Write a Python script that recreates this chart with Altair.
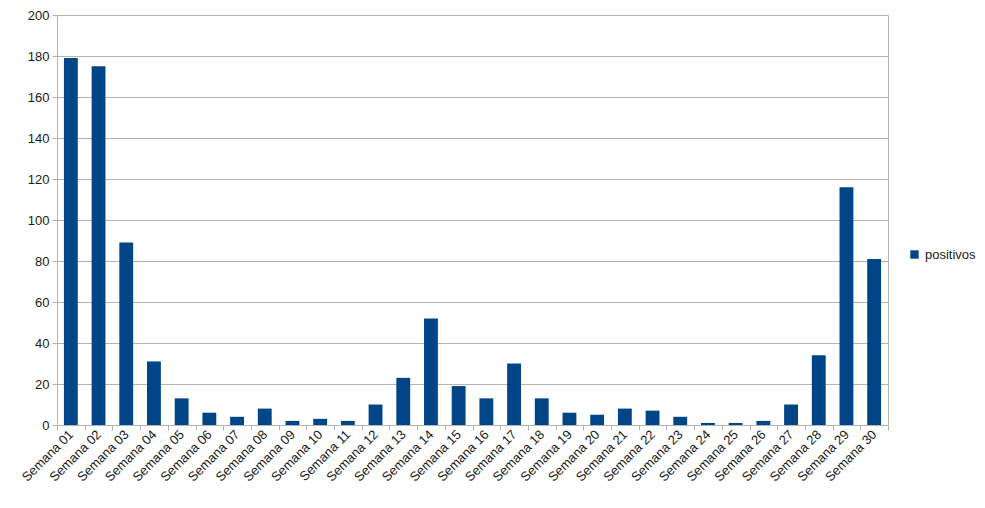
import altair as alt
import pandas as pd

semanas = [f"Semana {i:02d}" for i in range(1, 31)]
positivos = [179, 175, 89, 31, 13, 6, 4, 8, 2, 3,
             2, 10, 23, 52, 19, 13, 30, 13, 6, 5,
             8, 7, 4, 1, 1, 2, 10, 34, 116, 81]
serie = ["positivos"] * len(semanas)

df = pd.DataFrame({"semana": semanas, "valor": positivos, "serie": serie})

FONT = "Liberation Sans"
GRAY = "#b3b3b3"

chart = alt.Chart(df).mark_bar(width=alt.RelativeBandSize(0.5)).encode(
    x=alt.X("semana:N", sort=semanas, title=None,
            scale=alt.Scale(paddingInner=0, paddingOuter=0),
            axis=alt.Axis(labelAngle=-45, labelAlign="right", labelBaseline="middle",
                          tickBand="extent", tickSize=5, tickColor=GRAY,
                          domainColor=GRAY, labelFontSize=13, labelFont=FONT,
                          labelColor="#1a1a1a", labelPadding=2, grid=False)),
    y=alt.Y("valor:Q", title=None,
            scale=alt.Scale(domain=[0, 200], nice=False),
            axis=alt.Axis(values=list(range(0, 201, 20)), tickSize=5, tickColor=GRAY,
                          domainColor=GRAY, gridColor=GRAY, labelFontSize=13,
                          labelFont=FONT, labelColor="#1a1a1a", labelPadding=3)),
    color=alt.Color("serie:N", scale=alt.Scale(range=["#004586"]),
                    legend=alt.Legend(title=None, orient="none", legendX=851, legendY=233,
                                      symbolType="square", symbolSize=70,
                                      labelFontSize=13, labelFont=FONT,
                                      labelColor="#1a1a1a", symbolStrokeWidth=0)),
).properties(
    width=831, height=410,
    autosize=alt.AutoSizeParams(type="none"),
    padding={"left": 49, "top": 7, "right": 89, "bottom": 75},
).configure_view(stroke=GRAY, strokeWidth=1)

chart.save("out.html", embed_options={"renderer": "svg", "actions": False})
